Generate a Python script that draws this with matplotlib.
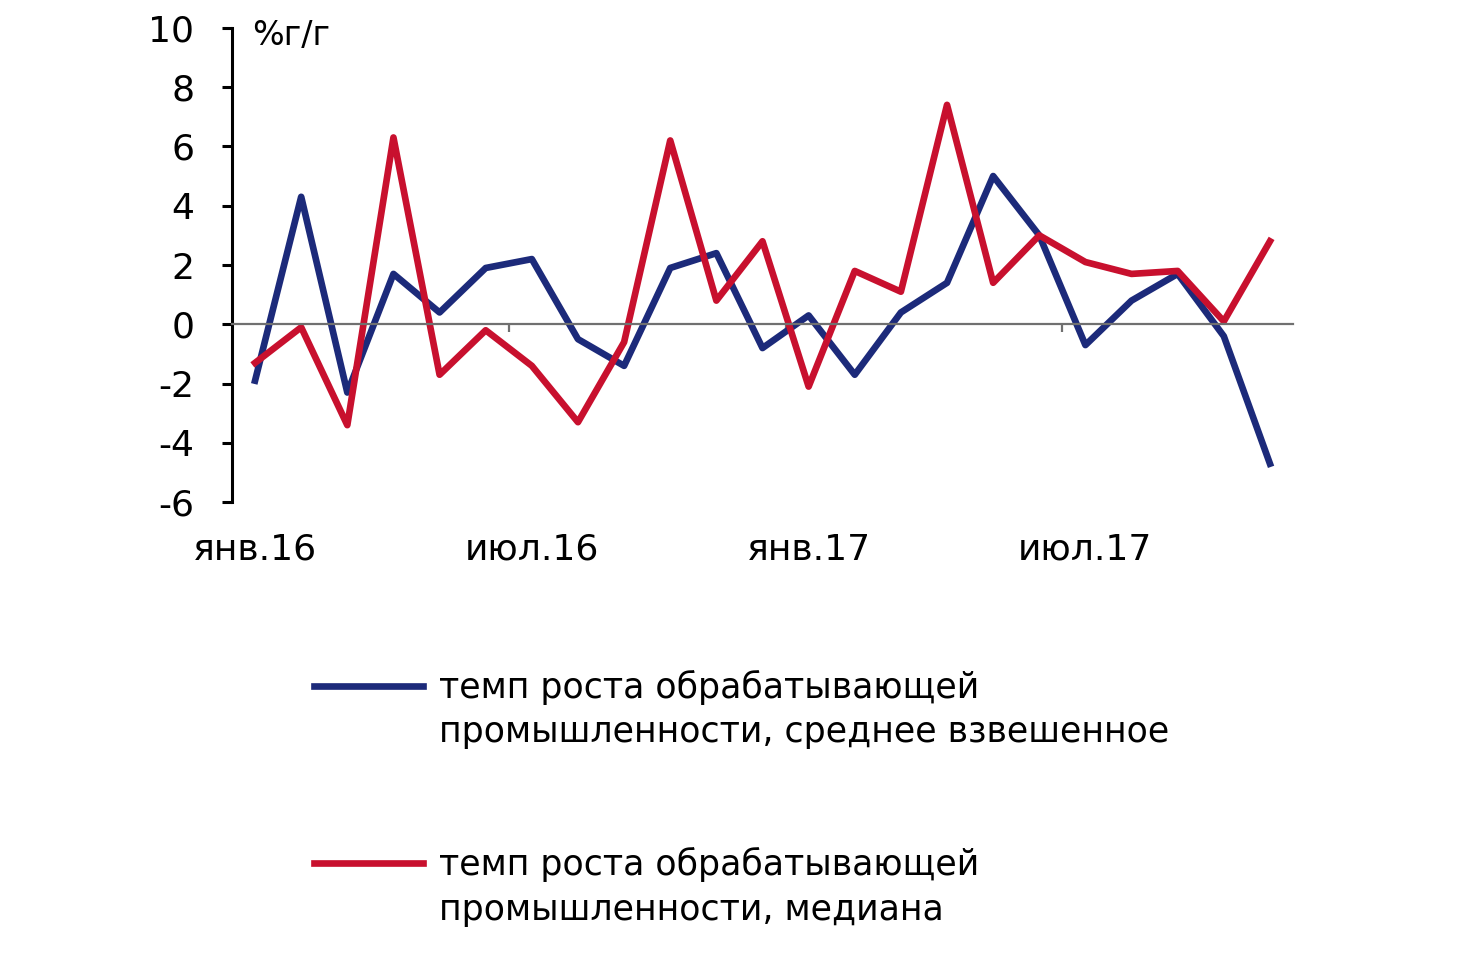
import matplotlib
matplotlib.use("Agg")
import matplotlib.pyplot as plt
from matplotlib.lines import Line2D

plt.rcParams['font.family'] = ['DejaVu Sans']
plt.rcParams['axes.unicode_minus'] = False

# months jan 2016 .. nov 2017
months = ['янв.16', 'фев.16', 'мар.16', 'апр.16', 'май.16', 'июн.16',
          'июл.16', 'авг.16', 'сен.16', 'окт.16', 'ноя.16', 'дек.16',
          'янв.17', 'фев.17', 'мар.17', 'апр.17', 'май.17', 'июн.17',
          'июл.17', 'авг.17', 'сен.17', 'окт.17', 'ноя.17']

weighted = [-1.9, 4.3, -2.3, 1.7, 0.4, 1.9, 2.2, -0.5, -1.4, 1.9, 2.4, -0.8,
            0.3, -1.7, 0.4, 1.4, 5.0, 3.0, -0.7, 0.8, 1.7, -0.4, -4.7]
median = [-1.3, -0.1, -3.4, 6.3, -1.7, -0.2, -1.4, -3.3, -0.6, 6.2, 0.8, 2.8,
          -2.1, 1.8, 1.1, 7.4, 1.4, 3.0, 2.1, 1.7, 1.8, 0.1, 2.8]

label_w = ['темп роста обрабатывающей', 'промышленности, среднее взвешенное']
label_m = ['темп роста обрабатывающей', 'промышленности, медиана']

blue = '#1c2a7a'
red = '#c8102e'

fig = plt.figure(figsize=(14.72, 9.6), dpi=100)
ax = fig.add_axes([0.1576, 0.4768, 0.7208, 0.4943])

x = list(range(len(months)))
l1, = ax.plot(x, weighted, color=blue, lw=4.8)
l2, = ax.plot(x, median, color=red, lw=4.8)

ax.set_xlim(-0.5, len(months) - 0.5)
ax.set_ylim(-6, 10)
ax.set_yticks(range(-6, 11, 2))

ax.spines['top'].set_visible(False)
ax.spines['right'].set_visible(False)
ax.spines['left'].set_linewidth(2.2)
ax.spines['left'].set_color('black')
ax.spines['bottom'].set_position(('data', 0))
ax.spines['bottom'].set_color('#707070')
ax.spines['bottom'].set_linewidth(1.6)

ax.tick_params(axis='y', direction='out', length=7.2, width=2.2,
               labelsize=26, pad=20, colors='black')
ax.set_xticks([i + 5.5 for i in range(0, len(months) - 6, 6)])
ax.tick_params(axis='x', direction='out', length=6, width=1.6,
               color='#707070', labelbottom=False)

sec = ax.secondary_xaxis('bottom')
sec.set_xticks(x[::6], labels=months[::6])
sec.tick_params(length=0, pad=22, labelsize=26)
sec.spines['bottom'].set_visible(False)

ax.text(0.019, 0.984, '%г/г', transform=ax.transAxes, fontsize=24,
        ha='left', va='center')

blank = Line2D([], [], color='none')
fig.legend([l1, blank, blank, blank, l2, blank],
           [label_w[0], label_w[1], '', '', label_m[0], label_m[1]],
           loc='upper left', bbox_to_anchor=(314 / 1472, 0.302),
           frameon=False, fontsize=25, handlelength=3.15, handletextpad=0.45,
           labelspacing=0.29, borderpad=0, borderaxespad=0)

fig.savefig('out.png', dpi=100)
